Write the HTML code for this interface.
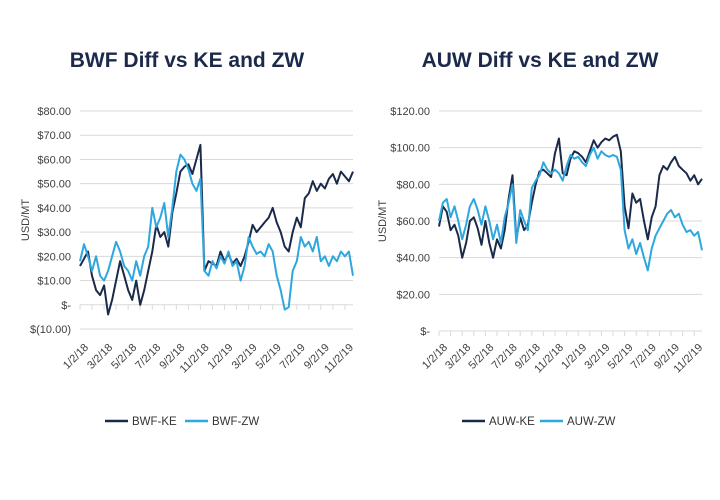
<!DOCTYPE html>
<html><head><meta charset="utf-8"><style>
body{margin:0;background:#fff;}
svg{display:block;font-family:"Liberation Sans",sans-serif;}
</style></head><body>
<svg id="c" width="720" height="500"></svg>
<script>
const months=["1/2/18","3/2/18","5/2/18","7/2/18","9/2/18","11/2/18","1/2/19","3/2/19","5/2/19","7/2/19","9/2/19","11/2/19"];
const bwfKE=[16,19,22,12,6,4,8,-4,2,10,18,12,6,2,10,0,6,14,22,33,28,30,24,38,46,55,57,58,54,60,66,14,18,17,16,22,18,21,17,19,16,20,26,33,30,32,34,36,40,34,30,24,22,30,36,32,44,46,51,47,50,48,52,54,50,55,53,51,55];
const bwfZW=[18,25,20,14,20,12,10,14,20,26,22,16,14,10,18,12,20,24,40,32,36,42,28,40,55,62,60,56,50,47,52,14,12,18,15,20,17,22,16,18,10,16,28,24,21,22,20,25,22,12,6,-2,-1,14,18,28,24,26,22,28,18,20,16,20,18,22,20,22,12];
const auwKE=[57,68,65,55,58,52,40,48,60,62,56,47,60,48,40,50,45,55,72,85,50,62,55,58,70,80,87,88,86,84,97,105,86,85,94,98,97,95,92,98,104,100,103,105,104,106,107,98,68,56,75,70,72,60,50,62,68,85,90,88,92,95,90,88,86,82,85,80,83];
const auwZW=[60,70,72,62,68,60,50,58,68,72,66,58,68,60,50,58,48,62,70,80,48,66,60,55,78,82,85,92,88,86,88,86,82,90,96,94,95,92,90,96,100,94,98,96,95,96,95,88,55,45,50,42,48,40,33,45,52,56,60,64,66,62,64,58,54,55,52,54,44];
const leftTicks=[80,70,60,50,40,30,20,10,0,-10];
const leftLabels=["$80.00","$70.00","$60.00","$50.00","$40.00","$30.00","$20.00","$10.00","$-","$(10.00)"];
const rightTicks=[120,100,80,60,40,20,0];
const rightLabels=["$120.00","$100.00","$80.00","$60.00","$40.00","$20.00","$-"];
const DARK="#1b2a4a",LIGHT="#2ea7df";
const svg=document.getElementById('c');
const NS="http://www.w3.org/2000/svg";
function mk(t,a,p){const e=document.createElementNS(NS,t);for(const k in a)e.setAttribute(k,a[k]);(p||svg).appendChild(e);return e;}
function chart(o){
  const g=mk('g',{});
  
  
  const y=v=>o.y0+(v-o.v0)*(o.y1-o.y0)/(o.v1-o.v0);
  const x=m=>o.x0+m*(o.x1-o.x0)/o.mEnd;
  const t=mk('text',{x:o.tx,y:67,'text-anchor':'middle','font-size':21,'font-weight':'bold',fill:DARK},g);
  t.textContent=o.title;
  
  
  o.ticks.forEach((v,i)=>{
    const l=mk('line',{x1:o.x0,x2:o.x1,y1:y(v),y2:y(v),stroke:'#d9d9d9','stroke-width':1},g);
    
    
    const tl=mk('text',{x:o.lx,y:y(v)+4,'text-anchor':'end','font-size':11,fill:'#404040'},g);
    tl.textContent=o.labels[i];
    
    
  });
  for(let m=0;m<=o.mEnd;m++){
    const tk=mk('line',{x1:x(m),x2:x(m),y1:y(0),y2:y(0)+5,stroke:'#d9d9d9'},g);
    
    
  }
  months.forEach((s,i)=>{
    const px=x(i*2)+9,py=348;
    const xl=mk('text',{x:px,y:py,'text-anchor':'end','font-size':11,fill:'#404040',transform:`rotate(-45 ${px} ${py})`},g);
    xl.textContent=s;
    
    
  });
  const yt=mk('text',{x:o.ytx,y:o.yty,'text-anchor':'middle','font-size':11,fill:'#404040',transform:`rotate(-90 ${o.ytx} ${o.yty})`},g);
  yt.textContent="USD/MT";
  
  
  o.series.forEach((s,si)=>{
    const d=s.data.map((v,i)=>(i?'L':'M')+x(i/3).toFixed(1)+','+y(v).toFixed(1)).join('');
    const p=mk('path',{d:d,fill:'none',stroke:s.color,'stroke-width':2,'stroke-linejoin':'round'},g);
    
    
    const lx=o.legx+si*o.legdx;
    const ll=mk('line',{x1:lx,x2:lx+23,y1:421,y2:421,stroke:s.color,'stroke-width':2.5},g);
    
    
    const lt=mk('text',{x:lx+27,y:425,'font-size':11.5,fill:'#333'},g);
    lt.textContent=s.label;
    
    
  });
}
chart({name:'bwf-chart',title:'BWF Diff vs KE and ZW',tx:187,x0:80,x1:353,mEnd:22.67,y0:111,y1:329,v0:80,v1:-10,ticks:leftTicks,labels:leftLabels,lx:71,ytx:29,yty:220,legx:105,legdx:80,series:[{data:bwfKE,color:DARK,label:'BWF-KE'},{data:bwfZW,color:LIGHT,label:'BWF-ZW'}]});
chart({name:'auw-chart',title:'AUW Diff vs KE and ZW',tx:540,x0:439,x1:702,mEnd:22.67,y0:111,y1:331,v0:120,v1:0,ticks:rightTicks,labels:rightLabels,lx:430,ytx:386,yty:221,legx:462,legdx:78,series:[{data:auwKE,color:DARK,label:'AUW-KE'},{data:auwZW,color:LIGHT,label:'AUW-ZW'}]});
</script>
</body></html>
